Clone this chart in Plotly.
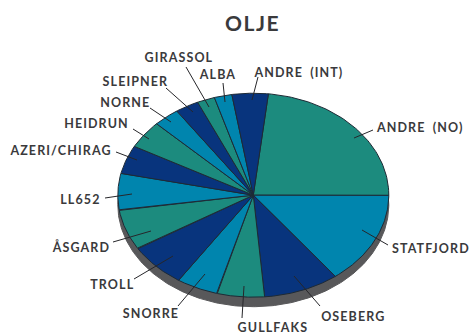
import numpy as np
import plotly.graph_objects as go

# Data (share of production, %, clockwise)
fields = ["ANDRE (NO)", "STATFJORD", "OSEBERG", "GULLFAKS", "SNORRE", "TROLL", "ÅSGARD",
          "LL652", "AZERI/CHIRAG", "HEIDRUN", "NORNE", "SLEIPNER", "GIRASSOL", "ALBA", "ANDRE (INT)"]
shares = [23.2, 14.6, 9.0, 5.6, 5.0, 6.9, 6.4, 5.8, 4.5, 4.4, 3.1, 2.8, 2.1, 2.1, 4.3]
start_angle = 6.4

TEAL, BLUE, NAVY = "#1C8B7E", "#0085AE", "#08347D"
colors = [TEAL, BLUE, NAVY] * 5

W, H = 472, 334
CX, CY, RX, RY = 253.3, 195.2, 135.5, 102.0
DEPTH = 9.5

def px(x, y):
    return (x - CX) / RX, (CY - y) / RY

fig = go.Figure()

# extruded side of the pie
t = np.linspace(0, 2 * np.pi, 361)
fig.add_trace(go.Scatter(x=np.sin(t), y=np.cos(t) - DEPTH / RY, mode="lines", fill="toself",
                         fillcolor="#58585A", line=dict(color="#58585A", width=1),
                         hoverinfo="skip", showlegend=False))

# wedges
edges = start_angle + np.concatenate([[0], np.cumsum(shares)]) * 360.0 / sum(shares)
for i, name in enumerate(fields):
    a = np.radians(np.linspace(edges[i], edges[i + 1], 60))
    fig.add_trace(go.Scatter(x=np.r_[0, np.sin(a), 0], y=np.r_[0, np.cos(a), 0], mode="lines",
                             fill="toself", fillcolor=colors[i],
                             line=dict(color="#1E2A35", width=1), name=name,
                             hoverinfo="name", showlegend=False))

# label layout (centre x, centre y, leader x0, y0, x1, y1 in pixels)
layout_spec = {
    "ANDRE (NO)": (419, 127, 354, 138, 373, 130),
    "STATFJORD": (431, 248, 362, 230, 388, 245),
    "OSEBERG": (353.5, 316, 294, 276, 320, 306),
    "GULLFAKS": (272.5, 327.5, 244, 286, 242, 318),
    "SNORRE": (151, 313, 205, 274, 178, 306),
    "TROLL": (112.5, 284, 173, 256, 134, 279),
    "ÅSGARD": (80.5, 247, 151, 231, 113, 242),
    "LL652": (80.5, 199, 132, 194, 105, 198),
    "AZERI/CHIRAG": (60, 150, 137, 160, 116, 152),
    "HEIDRUN": (96.5, 123, 149, 139, 133, 129),
    "NORNE": (125.5, 102, 171, 122, 150, 108),
    "SLEIPNER": (135.5, 81, 193, 112, 166, 88),
    "GIRASSOL": (178.5, 57, 209, 107, 186, 67),
    "ALBA": (217, 74, 225, 102, 223, 83),
    "ANDRE (INT)": (298, 72, 252, 100, 258, 77),
}
TEXT = "#3A3A3C"
for name in fields:
    lx, ly, x0, y0, x1, y1 = layout_spec[name]
    a0, b0 = px(x0, y0)
    a1, b1 = px(x1, y1)
    fig.add_shape(type="line", xref="x", yref="y", x0=a0, y0=b0, x1=a1, y1=b1,
                  line=dict(color="#26262A", width=1))
    ax, ay = px(lx, ly)
    fig.add_annotation(x=ax, y=ay, xref="x", yref="y", text=name, showarrow=False,
                       xanchor="center", yanchor="middle", borderpad=0,
                       font=dict(family="Lato", size=12.5, color=TEXT, weight=700))

tx, ty = px(252, 22)
fig.add_annotation(x=tx, y=ty, xref="x", yref="y", text="OLJE", showarrow=False,
                   xanchor="center", yanchor="middle",
                   font=dict(family="Lato", size=21, color=TEXT, weight=700))

fig.update_layout(
    width=W, height=H, margin=dict(l=0, r=0, t=0, b=0),
    paper_bgcolor="white", plot_bgcolor="white", showlegend=False,
    xaxis=dict(range=[(0 - CX) / RX, (W - CX) / RX], visible=False, fixedrange=True),
    yaxis=dict(range=[(CY - H) / RY, CY / RY], visible=False, fixedrange=True),
)

post = """
document.body.style.margin='0';
document.querySelectorAll('.annotation-text').forEach(function(t){
  t.style.letterSpacing = t.textContent==='OLJE' ? '1.5px' : '1.1px';
  t.style.wordSpacing = '3px';
});
"""
fig.write_html("out.html", config={"displayModeBar": False}, post_script=post)
